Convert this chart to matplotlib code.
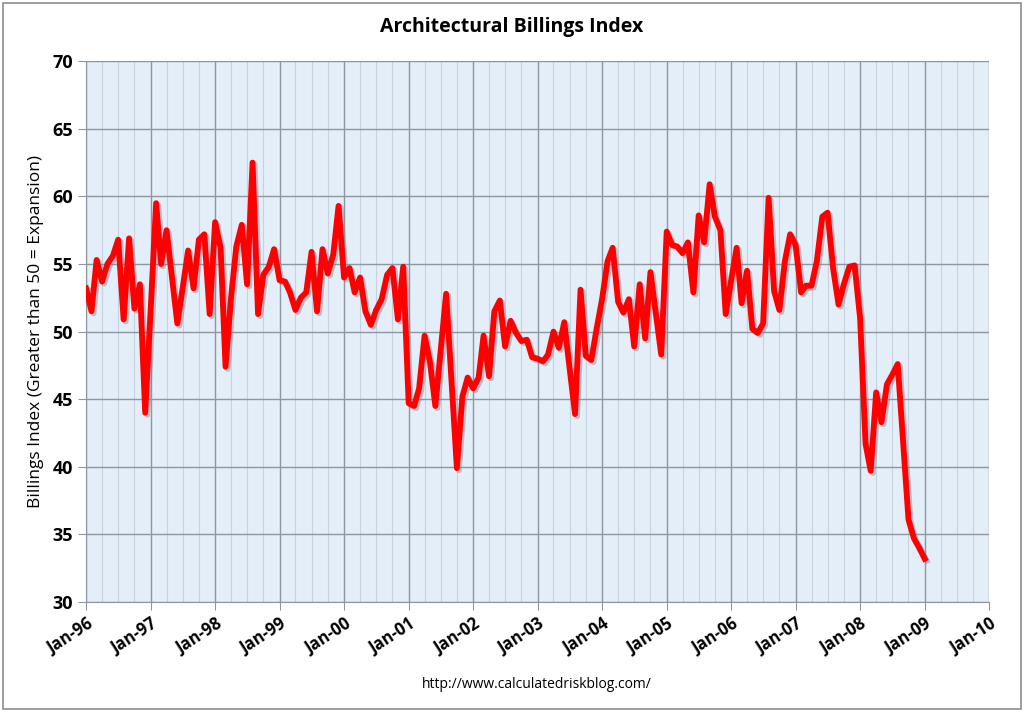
import pandas as pd
import matplotlib.pyplot as plt
import matplotlib.dates as mdates
import matplotlib.patheffects as pe
from matplotlib.patches import Rectangle

# monthly index, Jan-1996 .. Jan-2009
abi_1996 = [53.2, 51.5, 55.3, 53.7, 55.0, 55.6, 56.8, 50.9, 56.9, 51.7, 53.5, 44.0]
abi_1997 = [51.6, 59.5, 55.0, 57.5, 54.1, 50.6, 53.2, 56.0, 53.2, 56.8, 57.2, 51.3]
abi_1998 = [58.1, 56.2, 47.4, 52.5, 56.3, 57.9, 53.5, 62.5, 51.3, 54.2, 54.8, 56.1]
abi_1999 = [53.8, 53.7, 52.9, 51.6, 52.5, 52.9, 55.9, 51.5, 56.1, 54.3, 55.7, 59.3]
abi_2000 = [54.0, 54.7, 52.9, 54.0, 51.5, 50.5, 51.6, 52.4, 54.2, 54.7, 50.9, 54.8]
abi_2001 = [44.7, 44.5, 45.8, 49.7, 47.8, 44.5, 48.6, 52.8, 46.3, 39.9, 45.2, 46.6]
abi_2002 = [45.8, 46.6, 49.7, 46.7, 51.5, 52.3, 48.9, 50.8, 49.9, 49.3, 49.4, 48.1]
abi_2003 = [48.0, 47.8, 48.3, 50.0, 48.8, 50.7, 47.3, 43.9, 53.1, 48.2, 47.9, 50.2]
abi_2004 = [52.4, 55.2, 56.2, 52.2, 51.4, 52.4, 48.9, 53.5, 49.5, 54.4, 51.3, 48.3]
abi_2005 = [57.4, 56.4, 56.3, 55.8, 56.6, 52.9, 58.6, 56.6, 60.9, 58.5, 57.5, 51.3]
abi_2006 = [53.8, 56.2, 52.1, 54.5, 50.2, 49.9, 50.6, 59.9, 53.0, 51.6, 55.2, 57.2]
abi_2007 = [56.4, 52.9, 53.4, 53.4, 55.2, 58.5, 58.8, 54.7, 52.0, 53.5, 54.8, 54.9]
abi_2008 = [51.0, 41.7, 39.7, 45.5, 43.3, 46.1, 46.8, 47.6, 41.8, 36.1, 34.7, 34.0]
abi_2009 = [33.2]

values = (abi_1996 + abi_1997 + abi_1998 + abi_1999 + abi_2000 + abi_2001 + abi_2002
          + abi_2003 + abi_2004 + abi_2005 + abi_2006 + abi_2007 + abi_2008 + abi_2009)
dates = pd.date_range("1996-01-01", periods=len(values), freq="MS")

fig = plt.figure(figsize=(10.24, 7.12), dpi=100)
fig.patches.append(Rectangle((0.003, 0.004), 0.994, 0.992, transform=fig.transFigure,
                             fill=False, edgecolor="#8c8c8c", linewidth=1.2))

ax = fig.add_axes([0.084, 0.1545, 0.882, 0.7595])
ax.set_facecolor("#e3eef9")

ax.plot(dates, values, color="#ff0000", linewidth=4.2, solid_joinstyle="round",
        path_effects=[pe.SimpleLineShadow(offset=(1.5, -1.5), shadow_color="#7a8796", alpha=0.45),
                      pe.Normal()], zorder=5)

ax.set_xlim(pd.Timestamp("1996-01-01"), pd.Timestamp("2010-01-01"))
ax.set_ylim(30, 70)
ax.set_yticks(range(30, 71, 5))

ax.xaxis.set_major_locator(mdates.YearLocator())
ax.xaxis.set_major_formatter(mdates.DateFormatter("%b-%y"))
ax.xaxis.set_minor_locator(mdates.MonthLocator(bymonth=[4, 7, 10]))

ax.grid(which="major", axis="both", color="#8f969f", linewidth=1.0)
ax.grid(which="minor", axis="x", color="#c6d2de", linewidth=0.8)
ax.set_axisbelow(True)

for s in ["top", "right"]:
    ax.spines[s].set_visible(False)
for s in ["left", "bottom"]:
    ax.spines[s].set_color("#8f969f")

ax.tick_params(axis="both", which="major", length=6, color="#8f969f")
ax.tick_params(axis="x", which="minor", length=0)
for lab in ax.get_xticklabels():
    lab.set_rotation(33)
    lab.set_ha("right")
    lab.set_rotation_mode("anchor")
    lab.set_fontweight("bold")
    lab.set_family("Open Sans")
    lab.set_fontsize(12)
for lab in ax.get_yticklabels():
    lab.set_fontweight("bold")
    lab.set_family("Open Sans")
    lab.set_fontsize(13)

ax.set_ylabel("Billings Index (Greater than 50 = Expansion)", fontsize=12.5, family="Open Sans", labelpad=6)
fig.text(0.5, 0.962, "Architectural Billings Index", ha="center", va="center",
         fontsize=14, fontweight="bold", family="Open Sans")
fig.text(0.524, 0.038, "http://www.calculatedriskblog.com/", ha="center", va="center",
         fontsize=10, family="Open Sans")

fig.savefig("out.png", dpi=100)
